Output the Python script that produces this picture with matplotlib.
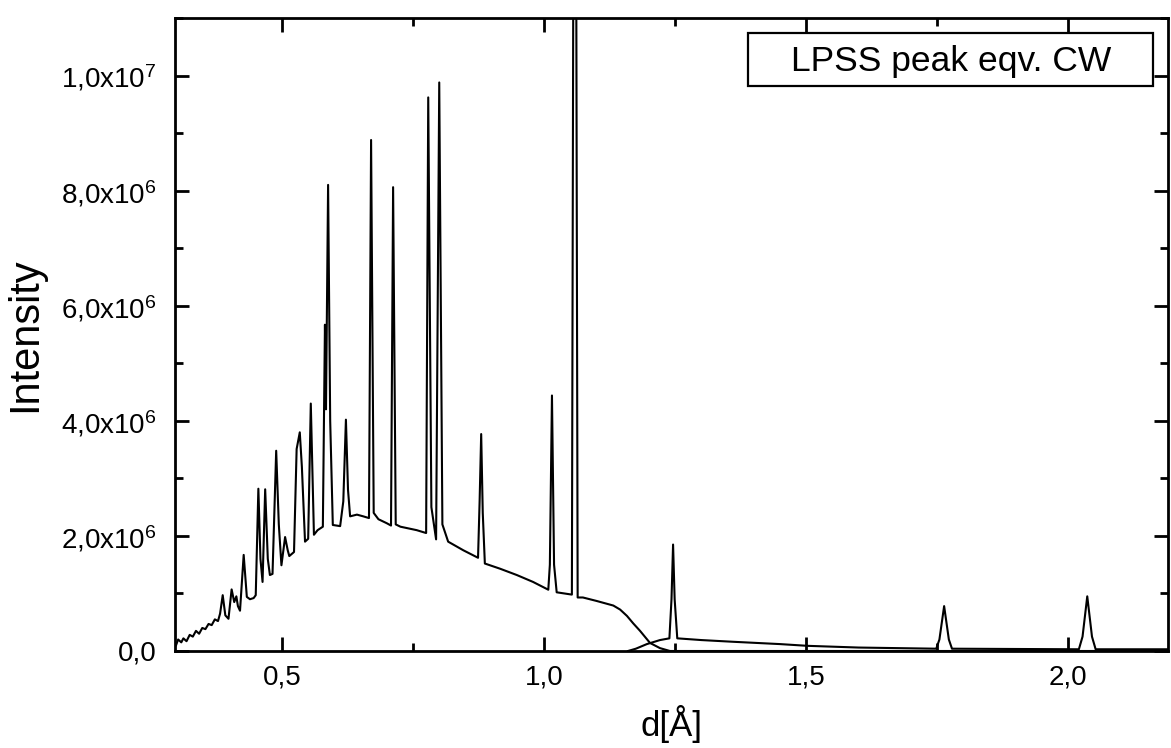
import matplotlib
matplotlib.use('Agg')
import matplotlib.pyplot as plt
from matplotlib.patches import Rectangle
from matplotlib.ticker import MultipleLocator

plt.rcParams['font.family'] = ['Liberation Sans', 'DejaVu Sans']
plt.rcParams['mathtext.fontset'] = 'custom'
plt.rcParams['mathtext.rm'] = 'Liberation Sans'
plt.rcParams['mathtext.it'] = 'Liberation Sans'

# main spectrum (d in Angstrom, intensity in units of 1e6)
d_main = [0.298, 0.302, 0.308, 0.312, 0.318, 0.324, 0.330, 0.336, 0.342, 0.348,
          0.354, 0.360, 0.366, 0.372, 0.378, 0.382, 0.387, 0.392, 0.398, 0.404,
          0.409, 0.413, 0.416, 0.420, 0.427, 0.433, 0.439, 0.446, 0.450, 0.455,
          0.459, 0.463, 0.468, 0.473, 0.477, 0.482, 0.489, 0.494, 0.499, 0.506,
          0.511, 0.514, 0.523, 0.526, 0.528, 0.534, 0.538, 0.544, 0.550, 0.555,
          0.561, 0.568, 0.578, 0.582, 0.584, 0.588, 0.592, 0.597, 0.611, 0.617,
          0.622, 0.626, 0.630, 0.643, 0.655, 0.666, 0.670, 0.675, 0.684, 0.700,
          0.708, 0.712, 0.717, 0.726, 0.757, 0.775, 0.779, 0.785, 0.794, 0.800,
          0.806, 0.817, 0.846, 0.874, 0.877, 0.880, 0.883, 0.887, 0.916, 0.948,
          0.979, 1.008, 1.011, 1.015, 1.019, 1.024, 1.053, 1.056, 1.061, 1.064,
          1.074, 1.100, 1.132, 1.145, 1.158, 1.170, 1.183, 1.202, 1.221, 1.240,
          2.200]
i_main = [0.10, 0.20, 0.15, 0.22, 0.17, 0.28, 0.25, 0.35, 0.30, 0.40,
          0.38, 0.47, 0.45, 0.55, 0.52, 0.65, 0.97, 0.62, 0.56, 1.07,
          0.85, 0.95, 0.78, 0.70, 1.67, 0.94, 0.90, 0.92, 0.97, 2.82,
          1.60, 1.20, 2.81, 1.60, 1.32, 1.34, 3.48, 2.20, 1.49, 1.98,
          1.75, 1.65, 1.72, 2.80, 3.51, 3.80, 3.20, 1.90, 1.95, 4.30,
          2.02, 2.10, 2.16, 5.67, 4.20, 8.10, 4.00, 2.19, 2.17, 2.60,
          4.02, 2.80, 2.34, 2.37, 2.34, 2.31, 8.88, 2.40, 2.29, 2.22,
          2.18, 8.06, 2.20, 2.16, 2.10, 2.05, 9.62, 2.50, 1.94, 9.88,
          2.20, 1.90, 1.75, 1.62, 2.60, 3.77, 2.40, 1.52, 1.43, 1.32,
          1.20, 1.065, 1.50, 4.44, 1.50, 1.02, 0.98, 13.0, 13.0, 0.93,
          0.93, 0.87, 0.79, 0.72, 0.61, 0.48, 0.35, 0.14, 0.05, 0.0,
          0.0]

# second pattern at large d
d_long = [1.160, 1.175, 1.196, 1.221, 1.239, 1.243, 1.246, 1.249, 1.254, 1.300,
          1.361, 1.450, 1.502, 1.600, 1.748, 1.754, 1.763, 1.772, 1.778, 2.020,
          2.027, 2.036, 2.045, 2.052, 2.200]
i_long = [0.0, 0.04, 0.12, 0.19, 0.22, 0.90, 1.85, 0.90, 0.22, 0.19,
          0.16, 0.12, 0.09, 0.06, 0.04, 0.20, 0.78, 0.20, 0.04, 0.03,
          0.25, 0.95, 0.25, 0.03, 0.03]

y_ticks = [0, 2e6, 4e6, 6e6, 8e6, 1e7]
y_labels = ['0,0', '2,0x10$^{6}$', '4,0x10$^{6}$', '6,0x10$^{6}$',
            '8,0x10$^{6}$', '1,0x10$^{7}$']
x_ticks = [0.5, 1.0, 1.5, 2.0]
x_labels = ['0,5', '1,0', '1,5', '2,0']

fig = plt.figure(figsize=(11.71, 7.48), dpi=100)
ax = fig.add_axes([175 / 1171, 97 / 748, 993 / 1171, 633 / 748])

ax.plot(d_main, [v * 1e6 for v in i_main], color='black', lw=1.5)
ax.plot(d_long, [v * 1e6 for v in i_long], color='black', lw=1.5)

ax.set_xlim(0.296, 2.19)
ax.set_ylim(0, 1.1e7)

ax.set_xticks(x_ticks)
ax.set_xticklabels(x_labels)
ax.set_yticks(y_ticks)
ax.set_yticklabels(y_labels)
ax.xaxis.set_minor_locator(MultipleLocator(0.25))
ax.yaxis.set_minor_locator(MultipleLocator(1e6))

ax.tick_params(which='both', direction='in', top=True, right=True, width=2)
ax.tick_params(which='major', length=10, labelsize=20)
ax.tick_params(axis='y', which='major', pad=13)
ax.tick_params(axis='x', which='major', pad=10)
ax.tick_params(which='minor', length=6)
for s in ax.spines.values():
    s.set_linewidth(2)

ax.set_xlabel('d[Å]', fontsize=25, labelpad=10)
ax.set_ylabel('Intensity', fontsize=30, labelpad=12)

# legend-like label box in the upper right
ax.add_patch(Rectangle((0.577, 0.893), 0.408, 0.083, transform=ax.transAxes,
                       fill=False, ec='black', lw=1.6))
ax.text(0.782, 0.932, 'LPSS peak eqv. CW', transform=ax.transAxes,
        ha='center', va='center', fontsize=25.5)

plt.savefig('out.png', dpi=100)
